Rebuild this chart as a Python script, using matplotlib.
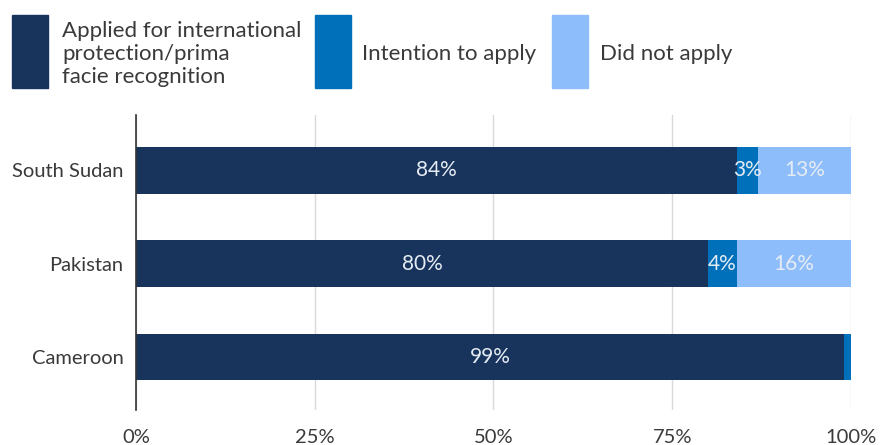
import numpy as np
import matplotlib.pyplot as plt
from matplotlib.patches import Rectangle

plt.rcParams['font.family'] = ['Lato', 'DejaVu Sans']

countries = ["Cameroon", "Pakistan", "South Sudan"]
applied = [99, 80, 84]
intention = [1, 4, 3]
not_applied = [0, 16, 13]

series_names = ["Applied for international\nprotection/prima\nfacie recognition",
                "Intention to apply", "Did not apply"]
colors = ["#18345d", "#0070bb", "#8ebdfc"]
label_color = "#e6ecf3"
text_color = "#3a3a3a"

fig = plt.figure(figsize=(8.8, 4.45), dpi=100)
ax = fig.add_axes([0.1545, 0.0787, 0.8125, 0.663])

y = np.arange(len(countries))
left = np.zeros(len(countries))
for vals, col in zip([applied, intention, not_applied], colors):
    vals = np.array(vals, dtype=float)
    bars = ax.barh(y, vals, left=left, height=0.5, color=col, zorder=3)
    for b, v in zip(bars, vals):
        if v >= 2:
            ax.text(b.get_x() + b.get_width() / 2, b.get_y() + b.get_height() / 2,
                    f"{int(v)}%", ha="center", va="center", color=label_color,
                    fontsize=15, zorder=4)
    left += vals

ax.set_xlim(0, 100)
ax.set_ylim(-0.57, 2.595)
ax.set_xticks([0, 25, 50, 75, 100])
ax.set_xticklabels(["0%", "25%", "50%", "75%", "100%"])
ax.set_yticks(y)
ax.set_yticklabels(countries)
ax.tick_params(axis="both", length=0, labelsize=14.5, colors=text_color)
ax.tick_params(axis="x", pad=14)
ax.tick_params(axis="y", pad=9)
ax.grid(axis="x", color="#d9d9d9", linewidth=1, zorder=0)
for s in ["top", "right", "bottom"]:
    ax.spines[s].set_visible(False)
ax.spines["left"].set_color("#333333")
ax.spines["left"].set_linewidth(1.2)
ax.spines["left"].set_zorder(5)

# legend drawn by hand: tall colour blocks with text beside them
W, H = 880.0, 445.0
patch_x = [12, 315, 552]
text_x = [62, 362, 600]
for px, tx, col, name in zip(patch_x, text_x, colors, series_names):
    fig.patches.append(Rectangle((px / W, 1 - 88 / H), 36 / W, 73 / H,
                                 transform=fig.transFigure, color=col))
    fig.text(tx / W, 1 - 54 / H, name, ha="left", va="center",
             fontsize=16, color=text_color, linespacing=1.2)

fig.savefig("out.png", dpi=100)
